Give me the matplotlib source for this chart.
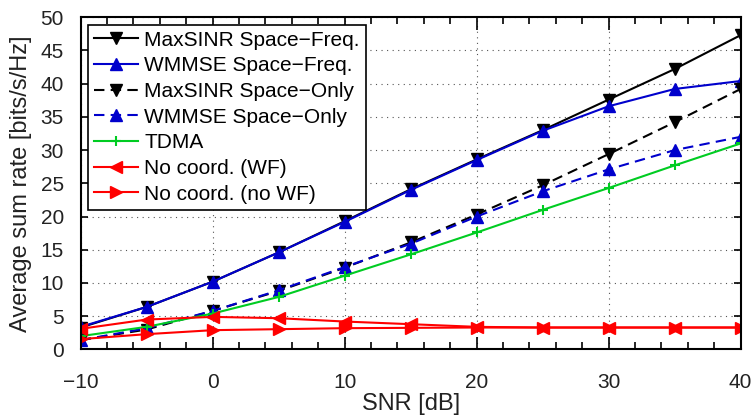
import matplotlib
matplotlib.use("Agg")
import matplotlib.pyplot as plt
from matplotlib.ticker import MultipleLocator

snr = [-10, -5, 0, 5, 10, 15, 20, 25, 30, 35, 40]
maxsinr_sf = [3.3, 6.4, 10.2, 14.6, 19.3, 24.1, 28.6, 33.0, 37.6, 42.2, 47.3]
wmmse_sf = [3.4, 6.4, 10.2, 14.6, 19.2, 24.0, 28.5, 32.9, 36.6, 39.2, 40.4]
maxsinr_so = [1.4, 3.0, 5.8, 8.8, 12.3, 16.1, 20.3, 24.7, 29.4, 34.2, 39.2]
wmmse_so = [1.4, 3.2, 5.8, 8.9, 12.4, 15.9, 20.0, 23.8, 27.1, 30.0, 32.0]
tdma = [2.0, 3.4, 5.4, 7.9, 11.1, 14.3, 17.6, 21.0, 24.3, 27.7, 31.0]
nocoord_wf = [3.1, 4.5, 4.9, 4.7, 4.2, 3.8, 3.4, 3.3, 3.3, 3.3, 3.3]
nocoord_nowf = [1.55, 2.3, 2.9, 3.05, 3.2, 3.25, 3.3, 3.3, 3.3, 3.3, 3.3]

labels = ["MaxSINR Space\u2212Freq.", "WMMSE Space\u2212Freq.", "MaxSINR Space\u2212Only",
          "WMMSE Space\u2212Only", "TDMA", "No coord. (WF)", "No coord. (no WF)"]

plt.rcParams['font.family'] = ['Liberation Sans', 'DejaVu Sans']

fig = plt.figure(figsize=(7.56, 4.2), dpi=100)
ax = fig.add_axes([0.1067, 0.168, 0.873, 0.791])

blue = '#0000CC'
green = '#00CC22'
red = '#FF0000'
lw = 1.5
ms = 9
ax.plot(snr, maxsinr_sf, color='black', lw=lw, marker='v', ms=ms, label=labels[0])
ax.plot(snr, wmmse_sf, color=blue, lw=lw, marker='^', ms=ms, label=labels[1])
ax.plot(snr, maxsinr_so, color='black', lw=lw, ls=(0, (5, 3)), marker='v', ms=ms, label=labels[2])
ax.plot(snr, wmmse_so, color=blue, lw=lw, ls=(0, (5, 3)), marker='^', ms=ms, label=labels[3])
ax.plot(snr, tdma, color=green, lw=lw, marker='+', ms=7, mew=1.5, label=labels[4])
ax.plot(snr, nocoord_wf, color=red, lw=lw, marker='<', ms=ms, label=labels[5])
ax.plot(snr, nocoord_nowf, color=red, lw=lw, marker='>', ms=ms, label=labels[6])

ax.set_xlim(-10, 40)
ax.set_ylim(0, 50)
ax.xaxis.set_major_locator(MultipleLocator(10))
ax.xaxis.set_minor_locator(MultipleLocator(2))
ax.yaxis.set_major_locator(MultipleLocator(5))
ax.grid(True, which='major', ls=(0, (1, 4)), color='#555555', lw=0.8)
ax.tick_params(axis='both', which='both', direction='in', top=True, right=True, labelsize=15, width=1.2,
               colors='black', labelcolor='#222222')
ax.tick_params(axis='x', which='major', length=9, pad=17)
ax.tick_params(axis='x', which='minor', length=5)
ax.tick_params(axis='y', which='major', length=5, pad=12)
for s in ax.spines.values():
    s.set_linewidth(1.5)
ax.set_xlabel("SNR [dB]", fontsize=17, labelpad=1, color='#222222')
ax.set_ylabel("Average sum rate [bits/s/Hz]", fontsize=17, labelpad=6, color='#222222')

leg = ax.legend(loc='upper left', fontsize=15, handlelength=2.1, fancybox=False,
                framealpha=1, edgecolor='black', borderaxespad=0.35, labelspacing=0.32,
                handletextpad=0.3, borderpad=0.3)
leg.get_frame().set_linewidth(1.2)

fig.savefig("out.png", dpi=100)
